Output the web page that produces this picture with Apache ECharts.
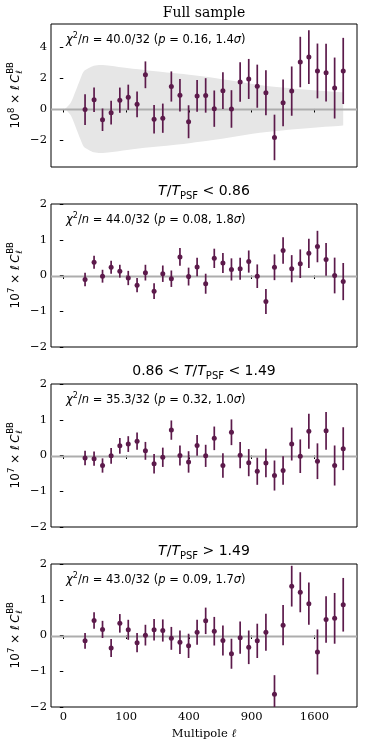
<!DOCTYPE html>
<html>
<head>
<meta charset="utf-8">
<script src="https://cdn.jsdelivr.net/npm/echarts@6.0.0/dist/echarts.min.js"></script>
<style>
  html, body { margin: 0; padding: 0; background: #fff; }
  #myChart { width: 365px; height: 751px; }
</style>
</head>
<body>
<div id="myChart"></div>
<script>
// bin centres (multipole l)
var ells = [12, 24, 39, 58, 81, 107, 138, 171, 209, 251, 296, 345, 398, 454, 514, 578,
  646, 717, 793, 872, 954, 1041, 1131, 1225, 1323, 1424, 1529, 1638, 1751, 1867, 1987];

// Full sample (units 1e-8)
var fullVals = [-0.04, 0.60, -0.70, -0.24, 0.57, 0.76, 0.30, 2.22, -0.67, -0.60, 1.46, 0.89, -0.83, 0.85, 0.88, 0.02,
  1.19, 0.00, 1.75, 1.95, 1.48, 1.06, -1.85, 0.40, 1.16, 3.05, 3.37, 2.47, 2.36, 1.36, 2.47];
var fullErrs = [1.00, 0.80, 0.73, 0.77, 0.82, 0.82, 0.83, 0.87, 0.93, 0.95, 0.98, 1.05, 1.07, 1.03, 1.12, 1.18,
  1.19, 1.22, 1.28, 1.30, 1.40, 1.46, 1.48, 1.52, 1.60, 1.64, 1.75, 1.78, 1.88, 1.98, 2.15];

// T/T_PSF < 0.86 (units 1e-7)
var lowVals = [-0.11, 0.37, -0.02, 0.23, 0.12, -0.07, -0.27, 0.08, -0.44, 0.05, -0.09, 0.52, -0.03, 0.24, -0.23, 0.48,
  0.35, 0.17, 0.19, 0.39, -0.02, -0.73, 0.23, 0.70, 0.19, 0.33, 0.62, 0.81, 0.45, 0.00, -0.17];
var lowErrs = [0.19, 0.18, 0.18, 0.18, 0.18, 0.20, 0.20, 0.22, 0.22, 0.23, 0.23, 0.25, 0.25, 0.26, 0.28, 0.27,
  0.28, 0.31, 0.31, 0.31, 0.33, 0.35, 0.36, 0.37, 0.38, 0.40, 0.41, 0.44, 0.46, 0.50, 0.52];

// 0.86 < T/T_PSF < 1.49
var midVals = [-0.07, -0.09, -0.28, -0.01, 0.27, 0.32, 0.40, 0.13, -0.23, -0.05, 0.71, 0.00, -0.18, 0.28, -0.01, 0.48,
  -0.28, 0.65, 0.01, -0.20, -0.44, -0.21, -0.56, -0.42, 0.32, -0.02, 0.68, -0.16, 0.69, -0.28, 0.19];
var midErrs = [0.20, 0.20, 0.20, 0.22, 0.22, 0.22, 0.24, 0.25, 0.27, 0.27, 0.27, 0.28, 0.30, 0.29, 0.31, 0.33,
  0.34, 0.36, 0.37, 0.38, 0.38, 0.40, 0.42, 0.40, 0.46, 0.47, 0.49, 0.50, 0.53, 0.56, 0.60];

// T/T_PSF > 1.49
var highVals = [-0.15, 0.42, 0.17, -0.35, 0.34, 0.16, -0.20, 0.01, 0.16, 0.14, -0.08, -0.19, -0.29, 0.09, 0.41, 0.12,
  -0.14, -0.51, -0.06, -0.33, -0.15, 0.09, -1.64, 0.29, 1.38, 1.21, 0.89, -0.46, 0.45, 0.48, 0.86];
var highErrs = [0.22, 0.23, 0.24, 0.25, 0.26, 0.28, 0.27, 0.29, 0.30, 0.31, 0.32, 0.33, 0.34, 0.35, 0.37, 0.40,
  0.42, 0.42, 0.45, 0.47, 0.48, 0.52, 0.53, 0.56, 0.57, 0.56, 0.59, 0.63, 0.65, 0.71, 0.75];

// grey expectation band of the full sample (half width)
var bandElls = [0.07, 1.35, 3.8, 7.6, 10.7, 16.5, 23.6, 35, 56, 103, 192, 365, 530, 1050, 1987];
var bandHalf = [0, 0.39, 1.15, 2.0, 2.45, 2.66, 2.81, 2.86, 2.81, 2.66, 2.49, 2.27, 2.07, 1.5, 1.08];

var xTickEll = [0, 100, 400, 900, 1600];
var xTickLabels = ['0', '100', '400', '900', '1600'];
var yTicksFull = [-2, 0, 2, 4];
var yTicksSub = [-2, -1, 0, 1, 2];

var panelExp = ['8', '7', '7', '7'];
var chiVals = ['40.0/32', '44.0/32', '35.3/32', '43.0/32'];
var pVals = ['0.16', '0.08', '0.32', '0.09'];
var sigVals = ['1.4', '1.8', '1.0', '1.7'];

var PURPLE = '#5c1a4b';
var ZERO_GREY = '#adadad';
var SANS = '"DejaVu Sans"';
var SERIF = '"DejaVu Serif"';
var tops = [24, 204, 384, 564];
var GL = 51, GW = 306, GH = 143;

var panels = [
  { vals: fullVals, errs: fullErrs, min: -3.77, max: 5.52, ticks: yTicksFull },
  { vals: lowVals, errs: lowErrs, min: -2, max: 2, ticks: yTicksSub },
  { vals: midVals, errs: midErrs, min: -2, max: 2, ticks: yTicksSub },
  { vals: highVals, errs: highErrs, min: -2, max: 2, ticks: yTicksSub }
];

var xTickPos = xTickEll.map(function (l) { return Math.sqrt(l); });

function fmtMinus(v) {
  return v < 0 ? '\u2212' + (-v) : String(v);
}

// horizontal y = 0 line across the plot area
function zeroRender(params, api) {
  var cs = params.coordSys;
  var y0 = Math.round(api.coord([0, api.value(1)])[1]) + 0.5;
  return {
    type: 'line',
    shape: { x1: cs.x, y1: y0, x2: cs.x + cs.width, y2: y0 },
    style: { stroke: ZERO_GREY, lineWidth: 1.8 }
  };
}

function errRender(params, api) {
  var x = api.value(0);
  var lo = api.coord([x, api.value(1)]);
  var hi = api.coord([x, api.value(2)]);
  return {
    type: 'line',
    shape: { x1: lo[0], y1: lo[1], x2: hi[0], y2: hi[1] },
    style: { stroke: PURPLE, lineWidth: 1.7 }
  };
}

var grids = [], xAxes = [], yAxes = [], series = [], graphics = [];

panels.forEach(function (p, k) {
  grids.push({
    left: GL, top: tops[k], width: GW, height: GH,
    show: true, borderColor: '#000', borderWidth: 1, backgroundColor: 'transparent'
  });
  xAxes.push({
    gridIndex: k, type: 'value', min: -1.96, max: 46.77,
    axisLine: { show: false },
    splitLine: { show: false },
    axisTick: { show: true, length: 3.5, customValues: xTickPos, lineStyle: { color: '#000', width: 1 } },
    axisLabel: {
      show: k === 3, customValues: xTickPos, margin: 4,
      fontFamily: SERIF, fontSize: 11.5, color: '#000',
      formatter: function (v) {
        for (var i = 0; i < xTickPos.length; i++) {
          if (Math.abs(xTickPos[i] - v) < 1e-6) return xTickLabels[i];
        }
        return '';
      }
    }
  });
  yAxes.push({
    gridIndex: k, type: 'value', min: p.min, max: p.max,
    axisLine: { show: false },
    splitLine: { show: false },
    axisTick: { show: true, length: 3.5, customValues: p.ticks, lineStyle: { color: '#000', width: 1 } },
    axisLabel: {
      show: true, customValues: p.ticks, margin: 4,
      fontFamily: SERIF, fontSize: 11.5, color: '#000',
      formatter: fmtMinus
    }
  });

  if (k === 0) {
    var up = bandElls.map(function (l, i) { return [Math.sqrt(l), bandHalf[i]]; });
    var dn = bandElls.map(function (l, i) { return [Math.sqrt(l), -bandHalf[i]]; });
    [up, dn].forEach(function (d) {
      series.push({
        type: 'line', xAxisIndex: 0, yAxisIndex: 0, data: d, z: 0,
        symbol: 'none', smooth: 0.3, silent: true,
        lineStyle: { width: 0, opacity: 0 },
        areaStyle: { color: '#e6e6e6', opacity: 1, origin: 0 }
      });
    });
  }

  // y = 0 reference line
  series.push({
    type: 'custom', xAxisIndex: k, yAxisIndex: k, data: [[0, 0]],
    renderItem: zeroRender, z: 5,
    encode: { x: 0, y: 1 }
  });

  var bars = ells.map(function (l, i) {
    return [Math.sqrt(l), p.vals[i] - p.errs[i], p.vals[i] + p.errs[i]];
  });
  var pts = ells.map(function (l, i) { return [Math.sqrt(l), p.vals[i]]; });

  series.push({
    type: 'custom', xAxisIndex: k, yAxisIndex: k, data: bars,
    renderItem: errRender, clip: true, silent: true, z: 6,
    encode: { x: 0, y: [1, 2] }
  });
  series.push({
    type: 'scatter', xAxisIndex: k, yAxisIndex: k, data: pts, z: 7,
    symbolSize: 5, silent: true,
    itemStyle: { color: PURPLE, opacity: 1 }
  });

  // titles
  var titleRich = {
    n: { fontFamily: SANS, fontSize: 14, lineHeight: 17, verticalAlign: 'bottom', padding: [0, 0, 3, 0], fill: '#000' },
    i: { fontFamily: SANS, fontStyle: 'italic', fontSize: 14, lineHeight: 17, verticalAlign: 'bottom', padding: [0, 0, 3, 0], fill: '#000' },
    sub: { fontFamily: SANS, fontSize: 10, lineHeight: 12, verticalAlign: 'bottom', fill: '#000' }
  };
  var titleText;
  if (k === 0) titleText = null;
  else if (k === 1) titleText = '{i|T}{n|/}{i|T}{sub|PSF}{n| < 0.86}';
  else if (k === 2) titleText = '{n|0.86 < }{i|T}{n|/}{i|T}{sub|PSF}{n| < 1.49}';
  else titleText = '{i|T}{n|/}{i|T}{sub|PSF}{n| > 1.49}';

  if (titleText === null) {
    graphics.push({
      type: 'text', x: GL + GW / 2, y: tops[k] - 11,
      style: { text: 'Full sample', fontFamily: SERIF, fontSize: 14, fill: '#000', align: 'center', verticalAlign: 'middle' }
    });
  } else {
    graphics.push({
      type: 'text', x: GL + GW / 2, y: tops[k] - 11,
      style: { text: titleText, rich: titleRich, align: 'center', verticalAlign: 'middle' }
    });
  }

  // chi^2 annotation
  var chiRich = {
    n: { fontFamily: SANS, fontSize: 11.5, lineHeight: 14, verticalAlign: 'bottom', fill: '#000' },
    i: { fontFamily: SANS, fontStyle: 'italic', fontSize: 11.5, lineHeight: 14, verticalAlign: 'bottom', fill: '#000' },
    sup: { fontFamily: SANS, fontSize: 8, lineHeight: 9, verticalAlign: 'bottom', padding: [0, 0, 6, 0], fill: '#000' }
  };
  graphics.push({
    type: 'text', x: 66, y: tops[k] + 15,
    style: {
      text: '{i|\u03c7}{sup|2}{n|/}{i|n}{n| = ' + chiVals[k] + ' (}{i|p}{n| = ' + pVals[k] + ', ' + sigVals[k] + '}{i|\u03c3}{n|)}',
      rich: chiRich, align: 'left', verticalAlign: 'middle'
    }
  });

  // y axis label, rotated
  var ctx = document.createElement('canvas').getContext('2d');
  function m(t, size, italic) {
    ctx.font = (italic ? 'italic ' : '') + size + 'px ' + SANS;
    return ctx.measureText(t).width;
  }
  var wA = m('10', 12) + m(panelExp[k], 8.5) + m(' \u00d7 ', 12) + m('\u2113\u2009C', 12, true);
  var wB = m('BB', 8.5);
  var a = (wA - wB) / 2;
  var labRich = {
    n: { fontFamily: SANS, fontSize: 12, lineHeight: 14, verticalAlign: 'bottom', fill: '#000' },
    i: { fontFamily: SANS, fontStyle: 'italic', fontSize: 12, lineHeight: 14, verticalAlign: 'bottom', fill: '#000' },
    sup: { fontFamily: SANS, fontSize: 8.5, lineHeight: 9, verticalAlign: 'bottom', padding: [0, 0, 6, 0], fill: '#000' }
  };
  graphics.push({
    type: 'group', x: 15, y: tops[k] + GH / 2, rotation: Math.PI / 2,
    children: [
      { type: 'text', style: { text: '{n|10}{sup|' + panelExp[k] + '}{n| \u00d7 }{i|\u2113\u2009C}', rich: labRich, x: a, y: 0, align: 'right', verticalAlign: 'middle' } },
      { type: 'text', style: { text: 'BB', fontFamily: SANS, fontSize: 8.5, fill: '#000', x: a + 0.5, y: -4, align: 'left', verticalAlign: 'middle' } },
      { type: 'text', style: { text: '\u2113', fontFamily: SANS, fontStyle: 'italic', fontSize: 8.5, fill: '#000', x: a + 0.5, y: 5, align: 'left', verticalAlign: 'middle' } }
    ]
  });
});

graphics.push({
  type: 'text', x: GL + GW / 2, y: 734,
  style: {
    text: '{n|Multipole }{i|\u2113}',
    rich: {
      n: { fontFamily: SERIF, fontSize: 11.5, fill: '#000' },
      i: { fontFamily: SERIF, fontStyle: 'italic', fontSize: 11.5, fill: '#000' }
    },
    align: 'center', verticalAlign: 'middle'
  }
});

var myChart = echarts.init(document.getElementById('myChart'), null, { renderer: 'canvas' });
myChart.setOption({
  animation: false,
  backgroundColor: '#fff',
  grid: grids,
  xAxis: xAxes,
  yAxis: yAxes,
  series: series,
  graphic: graphics
});
</script>
</body>
</html>
